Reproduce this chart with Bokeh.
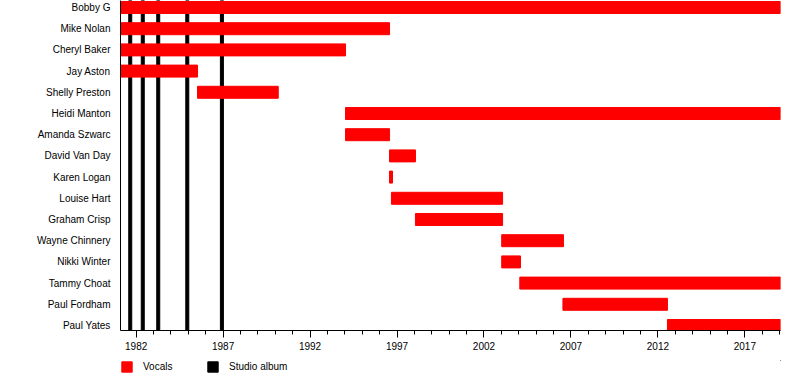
from bokeh.plotting import figure
from bokeh.layouts import column
from bokeh.models import Range1d, FixedTicker, Legend, LegendItem, ColumnDataSource
from bokeh.embed import file_html
from bokeh.resources import INLINE

# ---- data ----
members = ["Bobby G", "Mike Nolan", "Cheryl Baker", "Jay Aston", "Shelly Preston",
           "Heidi Manton", "Amanda Szwarc", "David Van Day", "Karen Logan",
           "Louise Hart", "Graham Crisp", "Wayne Chinnery", "Nikki Winter",
           "Tammy Choat", "Paul Fordham", "Paul Yates"]
starts = [1981.1, 1981.1, 1981.1, 1981.1, 1985.53, 1994.04, 1994.04, 1996.57,
          1996.57, 1996.68, 1998.06, 2003.02, 2003.02, 2004.06, 2006.54, 2012.55]
ends = [2019.05, 1996.57, 1994.04, 1985.53, 1990.17, 2019.05, 1996.57, 1998.06,
        1996.74, 2003.07, 2003.07, 2006.57, 2004.10, 2019.05, 2012.55, 2019.05]
album_years = [1981.66, 1982.38, 1983.27, 1984.94, 1986.93]
tick_years = [1982, 1987, 1992, 1997, 2002, 2007, 2012, 2017]
minor_years = list(range(1981, 2020))
legend_labels = ["Vocals", "Studio album"]
legend_colors = ["#ff0000", "black"]

X_START, X_END = 1981.1, 2019.05
Y_BOTTOM, Y_TOP = 15.236, -0.330

rows = list(range(len(members)))
FONT = "Liberation Sans"

p = figure(width=784, height=360,
           x_range=Range1d(X_START, X_END), y_range=Range1d(Y_BOTTOM, Y_TOP),
           output_backend="svg", toolbar_location=None,
           min_border_left=120, min_border_right=4,
           min_border_top=0, min_border_bottom=30)
p.xgrid.visible = False
p.ygrid.visible = False
p.outline_line_color = None
p.background_fill_color = "white"
p.border_fill_color = "white"

albums = p.vbar(x=album_years, width=0.1725, top=Y_TOP, bottom=Y_BOTTOM,
                color=legend_colors[1])
src = ColumnDataSource(dict(y=rows, left=starts, right=ends))
bars = p.hbar(y="y", left="left", right="right", height=0.566, source=src,
              color=legend_colors[0])

xa = p.xaxis[0]
xa.ticker = FixedTicker(ticks=tick_years, minor_ticks=minor_years)
xa.axis_line_color = "black"
xa.major_tick_line_color = "black"
xa.minor_tick_line_color = "black"
xa.major_tick_out = 7
xa.major_tick_in = 0
xa.minor_tick_out = 4
xa.minor_tick_in = 0
xa.major_label_standoff = 4
xa.major_label_text_font = FONT
xa.major_label_text_font_size = "10px"
xa.major_label_text_color = "black"

ya = p.yaxis[0]
ya.ticker = FixedTicker(ticks=rows)
ya.major_label_overrides = {i: m for i, m in zip(rows, members)}
ya.axis_line_color = "black"
ya.major_tick_line_color = None
ya.minor_tick_line_color = None
ya.major_tick_out = 0
ya.major_tick_in = 0
ya.major_label_standoff = 10
ya.major_label_text_font = FONT
ya.major_label_text_font_size = "10px"
ya.major_label_text_color = "black"

# ---- legend strip (frame aligned with the chart's frame) ----
lg = figure(width=784, height=14, output_backend="svg", toolbar_location=None,
            x_axis_type=None, y_axis_type=None,
            x_range=Range1d(0, 1), y_range=Range1d(0, 1),
            min_border_left=120, min_border_right=4,
            min_border_top=0, min_border_bottom=0)
lg.xgrid.visible = False
lg.ygrid.visible = False
lg.outline_line_color = None
lg.background_fill_color = "white"
lg.border_fill_color = "white"

items = []
for lab, col in zip(legend_labels, legend_colors):
    # swatch-only renderer, its single bar lies outside the strip's ranges
    r = lg.vbar(x=[5], top=[5], bottom=[4], width=0.1, color=col)
    items.append(LegendItem(label=lab, renderers=[r]))

legend = Legend(items=items, location=(0, 1), orientation="horizontal",
                glyph_width=13, glyph_height=13, label_standoff=10,
                label_width=63, label_height=13, spacing=0, padding=0, margin=0,
                border_line_color=None, background_fill_alpha=0,
                label_text_font=FONT, label_text_font_size="10px",
                label_text_color="black")
lg.add_layout(legend)

layout = column(p, lg, spacing=0)
open("out.html", "w").write(file_html(layout, INLINE))
